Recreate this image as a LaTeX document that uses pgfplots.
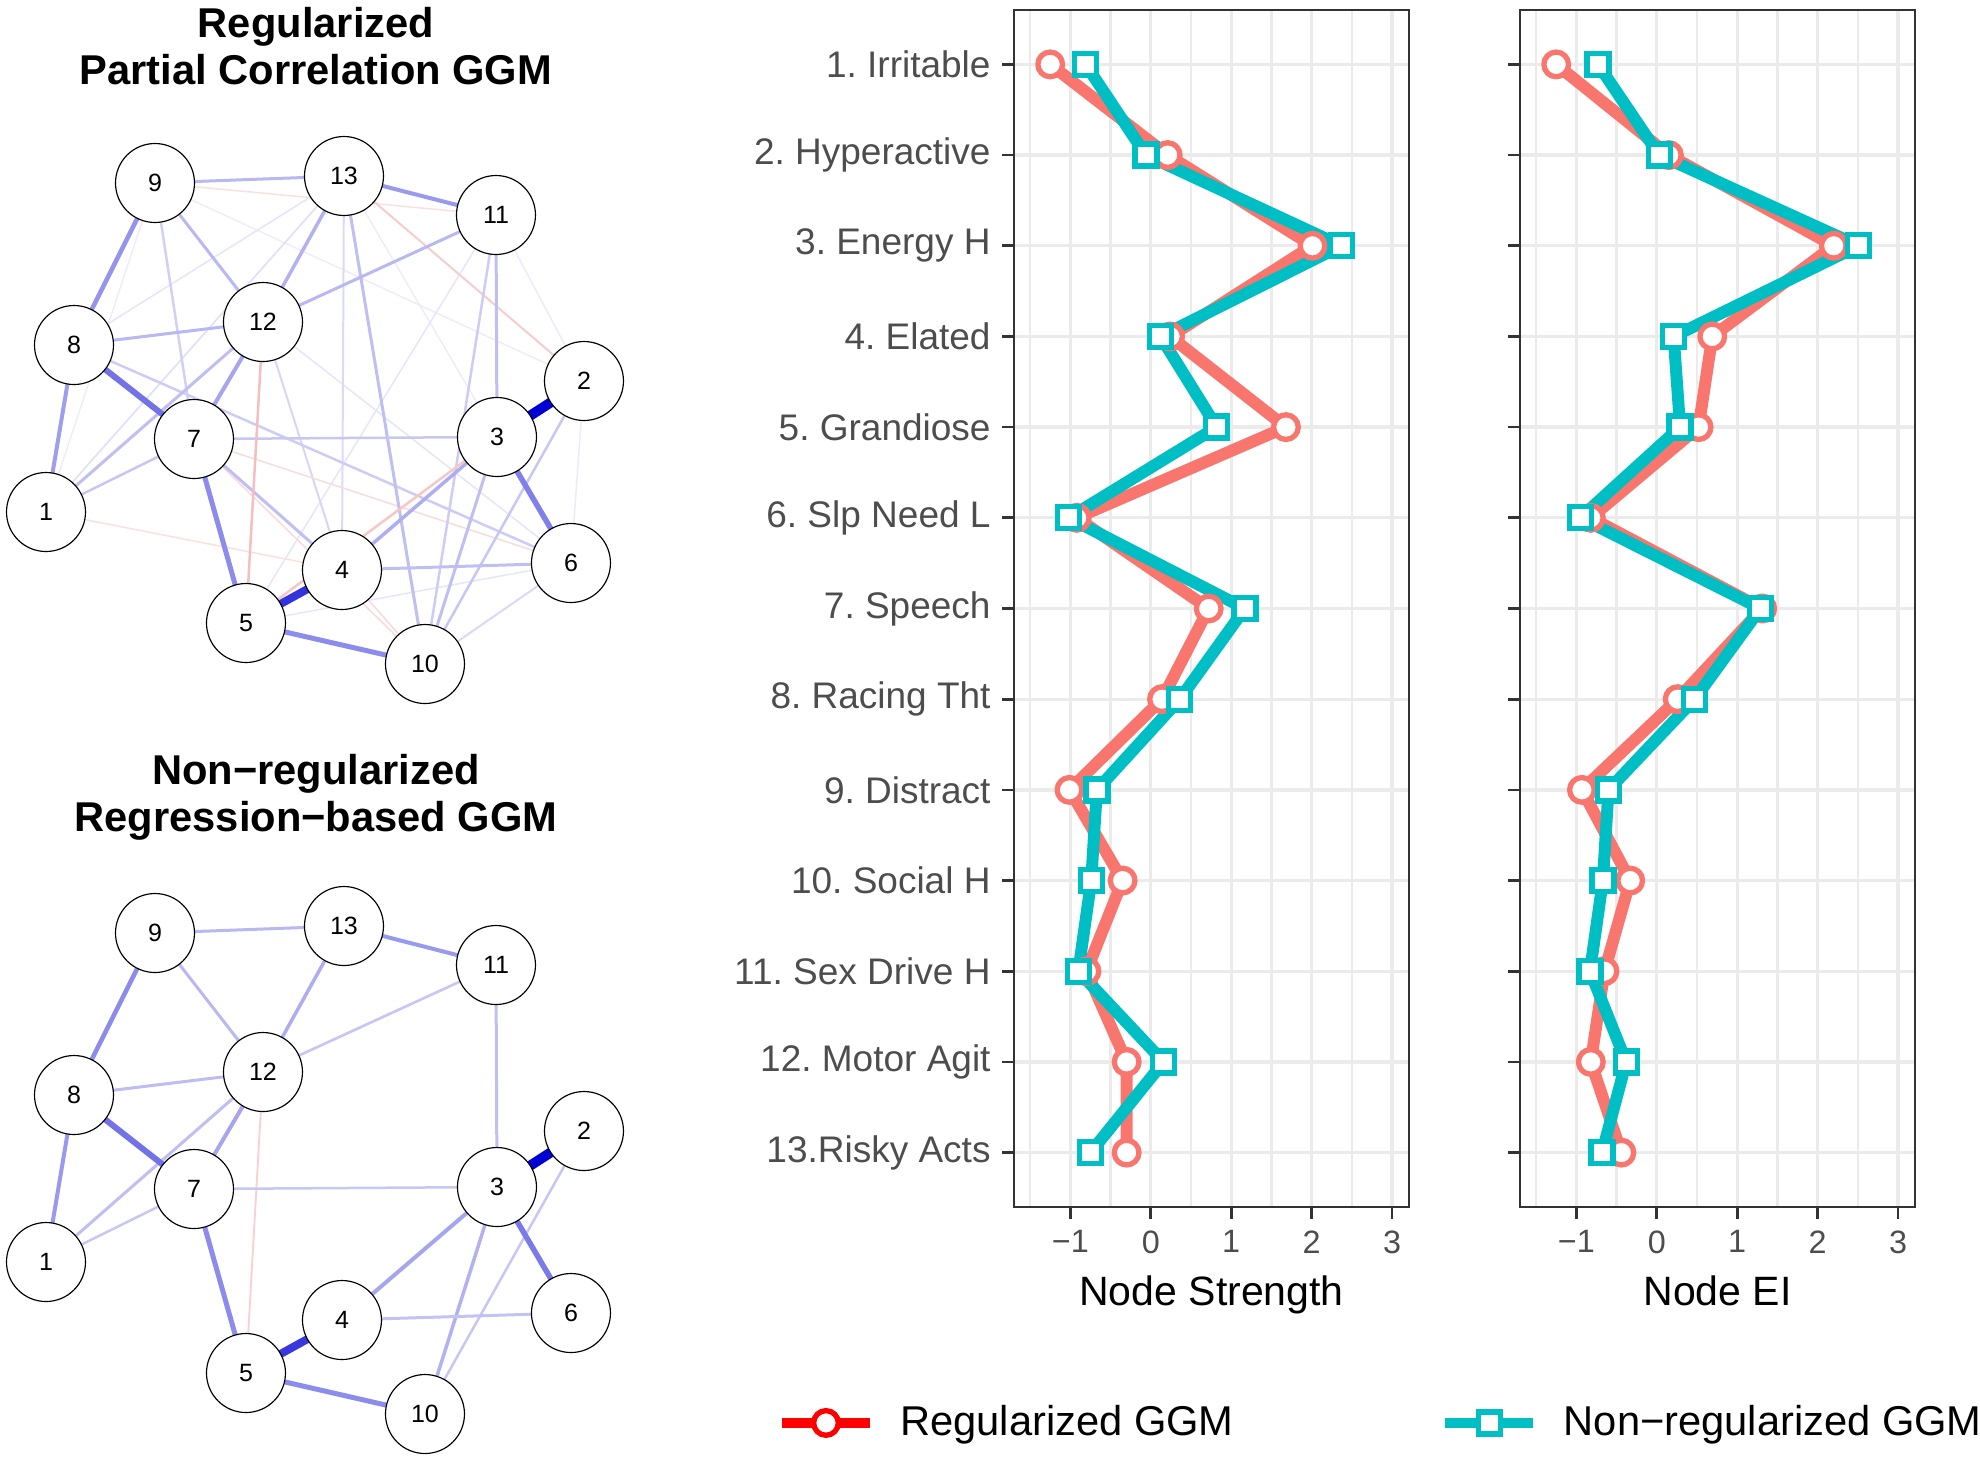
\documentclass[border=0pt]{standalone}
\usepackage{pgfplots}
\pgfplotsset{compat=1.18}
\usepackage{pgfplotstable}
\usepackage{fontspec}
\setmainfont{Liberation Sans}
\AtBeginDocument{\frenchspacing}

\definecolor{qblue}{RGB}{0,0,213}
\definecolor{qred}{RGB}{213,0,0}
\definecolor{reg}{HTML}{F8766D}
\definecolor{nonreg}{HTML}{00BFC4}
\definecolor{gridc}{HTML}{EBEBEB}
\definecolor{axc}{HTML}{333333}
\definecolor{labc}{HTML}{4D4D4D}

% node layout (pixel units, y downwards); bottom network is shifted by 750
\pgfplotstableread{
x y label
155 183 9
344 176 13
496 215 11
263 322 12
74 345 8
584 381 2
497 437 3
194 439 7
46 512 1
571 563 6
342 570 4
246 623 5
425 664 10
}\nodestop

\pgfplotstableread{
x y label
155 933 9
344 926 13
496 965 11
263 1072 12
74 1095 8
584 1131 2
497 1187 3
194 1189 7
46 1262 1
571 1313 6
342 1320 4
246 1373 5
425 1414 10
}\nodesbot

% centrality (z-scores), cat = symptom number
\pgfplotstableread{
cat reg nonreg
1 -1.25 -0.81
2 0.21 -0.06
3 2.01 2.37
4 0.24 0.12
5 1.68 0.82
6 -0.92 -1.02
7 0.72 1.17
8 0.14 0.36
9 -1.01 -0.67
10 -0.35 -0.74
11 -0.80 -0.90
12 -0.30 0.16
13 -0.30 -0.75
}\strength

\pgfplotstableread{
cat reg nonreg
1 -1.25 -0.73
2 0.15 0.03
3 2.20 2.51
4 0.69 0.21
5 0.52 0.29
6 -0.82 -0.95
7 1.31 1.29
8 0.26 0.47
9 -0.93 -0.60
10 -0.33 -0.67
11 -0.65 -0.83
12 -0.82 -0.38
13 -0.44 -0.68
}\ei

\pgfplotsset{
  edge/.style={mark=none, forget plot},
  nodemarks/.style={only marks, mark=*, mark size=11.85pt,
    mark options={fill=white, draw=black, line width=0.35pt},
    nodes near coords, point meta=explicit symbolic,
    every node near coord/.append style={anchor=center, font=\fontsize{7.5}{9}\selectfont}},
  centpanel/.style={
    scale only axis, width=118.5pt, height=359.1pt, anchor=north west,
    xmin=-1.70, xmax=3.21, ymin=0.4, ymax=13.6,
    xtick={-1,0,1,2,3}, xticklabels={−1,0,1,2,3},
    minor xtick={-1.5,-0.5,0.5,1.5,2.5},
    ytick={1,...,13},
    grid=both,
    major grid style={draw=gridc, line width=1pt},
    minor grid style={draw=gridc, line width=0.65pt},
    tick pos=left, tick align=outside,
    major tick length=3.5pt, minor tick length=0pt,
    axis line style={draw=axc, line width=0.7pt},
    tick style={draw=axc, line width=0.8pt},
    xticklabel style={font=\fontsize{9.7}{11}\selectfont, text=labc},
    yticklabel style={font=\fontsize{11.1}{13}\selectfont, text=labc},
    xlabel style={font=\fontsize{12.3}{14}\selectfont},
  },
  regline/.style={color=reg, line width=3.6pt, line join=round, mark=*, mark size=3.7pt,
    mark options={fill=white, draw=reg, line width=1.6pt}, forget plot},
  nonline/.style={color=nonreg, line width=3.6pt, line join=round, mark=square*, mark size=3.3pt,
    mark options={fill=white, draw=nonreg, line width=1.6pt, line join=miter}, forget plot},
}

\begin{document}
\begin{tikzpicture}
\path[use as bounding box] (0pt,0pt) rectangle (594pt,-438.3pt);

% ---------------- networks ----------------
\begin{axis}[
  at={(0pt,0pt)}, anchor=north west,
  scale only axis, width=192pt, height=438.3pt,
  xmin=0, xmax=640, ymin=0, ymax=1461, y dir=reverse,
  hide axis, clip=false,
]
\node[font=\bfseries\fontsize{12.5}{14.1}\selectfont, align=center] at (axis cs:316,46) {Regularized\\Partial Correlation GGM};
\node[font=\bfseries\fontsize{12.5}{14.1}\selectfont, align=center] at (axis cs:316,797) {Non−regularized\\Regression−based GGM};

% regularized: faint edges
\addplot[edge, draw=qblue!8!white, line width=0.45pt] coordinates {(496,215) (584,381)};
\addplot[edge, draw=qblue!8!white, line width=0.45pt] coordinates {(584,381) (571,563)};
\addplot[edge, draw=qblue!8!white, line width=0.4pt] coordinates {(155,183) (584,381)};
\addplot[edge, draw=qblue!8!white, line width=0.4pt] coordinates {(155,183) (46,512)};
\addplot[edge, draw=qblue!8!white, line width=0.4pt] coordinates {(344,176) (571,563)};
\addplot[edge, draw=qblue!10!white, line width=0.45pt] coordinates {(344,176) (74,345)};
\addplot[edge, draw=qblue!12!white, line width=0.5pt] coordinates {(344,176) (46,512)};
\addplot[edge, draw=qblue!10!white, line width=0.45pt] coordinates {(263,322) (571,563)};
\addplot[edge, draw=qblue!10!white, line width=0.45pt] coordinates {(496,215) (246,623)};
\addplot[edge, draw=qblue!10!white, line width=0.45pt] coordinates {(246,623) (571,563)};
\addplot[edge, draw=qblue!14!white, line width=0.6pt] coordinates {(344,176) (342,570)};
\addplot[edge, draw=qblue!16!white, line width=0.6pt] coordinates {(263,322) (342,570)};
\addplot[edge, draw=qblue!15!white, line width=0.6pt] coordinates {(571,563) (425,664)};
\addplot[edge, draw=qred!12!white, line width=0.45pt] coordinates {(155,183) (496,215)};
\addplot[edge, draw=qred!12!white, line width=0.45pt] coordinates {(46,512) (342,570)};
\addplot[edge, draw=qred!14!white, line width=0.45pt] coordinates {(194,439) (571,563)};
\addplot[edge, draw=qred!15!white, line width=0.45pt] coordinates {(194,439) (425,664)};
\addplot[edge, draw=qred!15!white, line width=0.45pt] coordinates {(342,570) (425,664)};
\addplot[edge, draw=qred!20!white, line width=0.6pt] coordinates {(344,176) (584,381)};
\addplot[edge, draw=qblue!18!white, line width=0.75pt] coordinates {(155,183) (194,439)};
\addplot[edge, draw=qblue!20!white, line width=0.75pt] coordinates {(74,345) (571,563)};
\addplot[edge, draw=qblue!20!white, line width=0.75pt] coordinates {(496,215) (425,664)};
\addplot[edge, draw=qblue!25!white, line width=0.9pt] coordinates {(194,439) (342,570)};
\addplot[edge, draw=qblue!25!white, line width=0.9pt] coordinates {(344,176) (425,664)};
% regularized: main edges
\addplot[edge, draw=qblue!22!white, line width=0.75pt] coordinates {(194,439) (46,512)};
\addplot[edge, draw=qblue!25!white, line width=0.9pt] coordinates {(263,322) (46,512)};
\addplot[edge, draw=qblue!22!white, line width=0.75pt] coordinates {(584,381) (425,664)};
\addplot[edge, draw=qblue!25!white, line width=0.9pt] coordinates {(497,437) (425,664)};
\addplot[edge, draw=qblue!22!white, line width=0.75pt] coordinates {(194,439) (497,437)};
\addplot[edge, draw=qblue!25!white, line width=0.9pt] coordinates {(342,570) (571,563)};
\addplot[edge, draw=qblue!28!white, line width=0.9pt] coordinates {(155,183) (344,176)};
\addplot[edge, draw=qblue!28!white, line width=0.9pt] coordinates {(155,183) (263,322)};
\addplot[edge, draw=qblue!25!white, line width=0.9pt] coordinates {(496,215) (497,437)};
\addplot[edge, draw=qblue!28!white, line width=0.9pt] coordinates {(74,345) (263,322)};
\addplot[edge, draw=qblue!28!white, line width=0.9pt] coordinates {(496,215) (263,322)};
\addplot[edge, draw=qblue!32!white, line width=1.05pt] coordinates {(497,437) (342,570)};
\addplot[edge, draw=qred!22!white, line width=0.75pt] coordinates {(497,437) (246,623)};
\addplot[edge, draw=qred!25!white, line width=0.75pt] coordinates {(263,322) (246,623)};
\addplot[edge, draw=qblue!30!white, line width=1.05pt] coordinates {(344,176) (263,322)};
\addplot[edge, draw=qblue!35!white, line width=1.2pt] coordinates {(263,322) (194,439)};
\addplot[edge, draw=qblue!38!white, line width=1.2pt] coordinates {(46,512) (74,345)};
\addplot[edge, draw=qblue!40!white, line width=1.2pt] coordinates {(344,176) (496,215)};
\addplot[edge, draw=qblue!42!white, line width=1.35pt] coordinates {(155,183) (74,345)};
\addplot[edge, draw=qblue!45!white, line width=1.5pt] coordinates {(246,623) (425,664)};
\addplot[edge, draw=qblue!45!white, line width=1.5pt] coordinates {(194,439) (246,623)};
\addplot[edge, draw=qblue!50!white, line width=1.65pt] coordinates {(497,437) (571,563)};
\addplot[edge, draw=qblue!55!white, line width=1.8pt] coordinates {(74,345) (194,439)};
\addplot[edge, draw=qblue!80!white, line width=2.4pt] coordinates {(342,570) (246,623)};
\addplot[edge, draw=qblue, line width=3pt] coordinates {(584,381) (497,437)};
\addplot[nodemarks] table[x=x, y=y, meta=label] {\nodestop};

% non-regularized edges
\addplot[edge, draw=qred!18!white, line width=0.55pt] coordinates {(263,1072) (246,1373)};
\addplot[edge, draw=qblue!22!white, line width=0.75pt] coordinates {(194,1189) (46,1262)};
\addplot[edge, draw=qblue!25!white, line width=0.9pt] coordinates {(263,1072) (46,1262)};
\addplot[edge, draw=qblue!22!white, line width=0.75pt] coordinates {(584,1131) (425,1414)};
\addplot[edge, draw=qblue!30!white, line width=1.05pt] coordinates {(497,1187) (425,1414)};
\addplot[edge, draw=qblue!22!white, line width=0.75pt] coordinates {(194,1189) (497,1187)};
\addplot[edge, draw=qblue!24!white, line width=0.9pt] coordinates {(342,1320) (571,1313)};
\addplot[edge, draw=qblue!28!white, line width=0.9pt] coordinates {(155,933) (344,926)};
\addplot[edge, draw=qblue!28!white, line width=0.9pt] coordinates {(155,933) (263,1072)};
\addplot[edge, draw=qblue!25!white, line width=0.9pt] coordinates {(496,965) (497,1187)};
\addplot[edge, draw=qblue!26!white, line width=0.9pt] coordinates {(74,1095) (263,1072)};
\addplot[edge, draw=qblue!22!white, line width=0.8pt] coordinates {(496,965) (263,1072)};
\addplot[edge, draw=qblue!35!white, line width=1.2pt] coordinates {(497,1187) (342,1320)};
\addplot[edge, draw=qblue!32!white, line width=1.05pt] coordinates {(344,926) (263,1072)};
\addplot[edge, draw=qblue!35!white, line width=1.2pt] coordinates {(263,1072) (194,1189)};
\addplot[edge, draw=qblue!40!white, line width=1.2pt] coordinates {(46,1262) (74,1095)};
\addplot[edge, draw=qblue!40!white, line width=1.2pt] coordinates {(344,926) (496,965)};
\addplot[edge, draw=qblue!45!white, line width=1.4pt] coordinates {(155,933) (74,1095)};
\addplot[edge, draw=qblue!45!white, line width=1.5pt] coordinates {(246,1373) (425,1414)};
\addplot[edge, draw=qblue!45!white, line width=1.5pt] coordinates {(194,1189) (246,1373)};
\addplot[edge, draw=qblue!52!white, line width=1.65pt] coordinates {(497,1187) (571,1313)};
\addplot[edge, draw=qblue!55!white, line width=1.8pt] coordinates {(74,1095) (194,1189)};
\addplot[edge, draw=qblue!78!white, line width=2.4pt] coordinates {(342,1320) (246,1373)};
\addplot[edge, draw=qblue, line width=3pt] coordinates {(584,1131) (497,1187)};
\addplot[nodemarks] table[x=x, y=y, meta=label] {\nodesbot};
\end{axis}

% ---------------- node strength ----------------
\begin{axis}[
  centpanel, at={(304.2pt,-3pt)},
  yticklabels={13.Risky Acts, 12. Motor Agit, 11. Sex Drive H, 10. Social H, 9. Distract, 8. Racing Tht, 7. Speech, 6. Slp Need L, 5. Grandiose, 4. Elated, 3. Energy H, 2. Hyperactive, 1. Irritable},
  xlabel={Node Strength},
]
\addplot[regline] table[x=reg, y expr=14-\thisrow{cat}] {\strength};
\addplot[nonline] table[x=nonreg, y expr=14-\thisrow{cat}] {\strength};
\end{axis}

% ---------------- node EI ----------------
\begin{axis}[
  centpanel, at={(456pt,-3pt)},
  yticklabels={},
  xlabel={Node EI},
  legend columns=2,
  legend cell align=left,
  legend style={at={(-1.908,-0.1804)}, anchor=west, draw=none, fill=none,
    font=\fontsize{12.5}{15}\selectfont,
    /tikz/every even column/.append style={column sep=60pt}},
  legend image code/.code={
    \draw[mark repeat=2, mark phase=2] plot coordinates {(0pt,0pt) (13.2pt,0pt) (26.4pt,0pt)};
    \path (32pt,0pt);},
]
\addplot[regline] table[x=reg, y expr=14-\thisrow{cat}] {\ei};
\addplot[nonline] table[x=nonreg, y expr=14-\thisrow{cat}] {\ei};
\addlegendimage{color=red, line width=3pt, mark=*, mark size=3.7pt, mark options={fill=white, draw=red, line width=1.6pt}}
\addlegendentry{Regularized GGM}
\addlegendimage{color=nonreg, line width=3pt, mark=square*, mark size=3.3pt, mark options={fill=white, draw=nonreg, line width=1.6pt, line join=miter}}
\addlegendentry{Non−regularized GGM}
\end{axis}
\end{tikzpicture}
\end{document}
